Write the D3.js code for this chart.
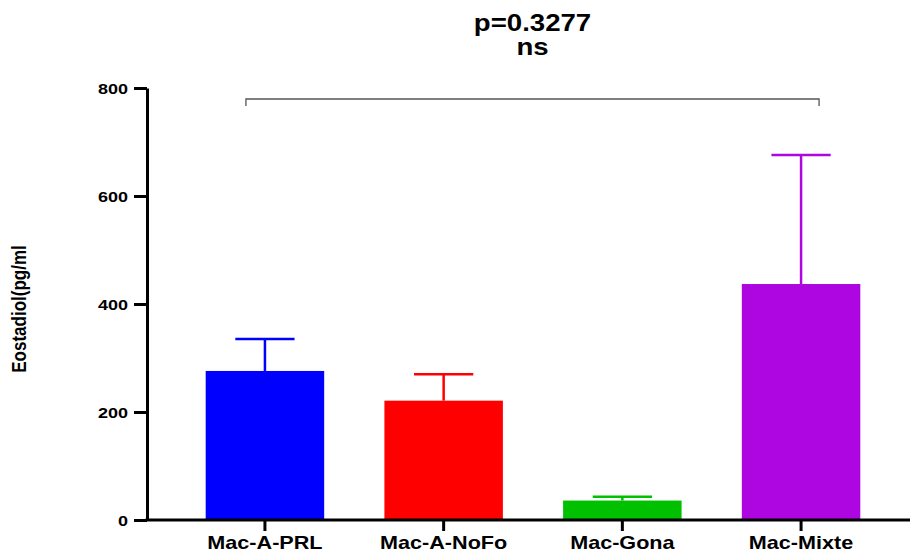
<!DOCTYPE html>
<html>
<head>
<meta charset="utf-8">
<script src="https://cdn.jsdelivr.net/npm/d3@7"></script>
<style>
  html, body { margin: 0; padding: 0; background: #fff; }
  svg { display: block; font-family: "Liberation Sans", Arial, sans-serif; font-weight: bold; }
</style>
</head>
<body>
<svg id="chart" width="910" height="553"></svg>
<script>
// Groups, means and SEM (pg/ml)
const groups = ["Mac-A-PRL", "Mac-A-NoFo", "Mac-Gona", "Mac-Mixte"];
const means = [276, 221, 36, 437];
const sems = [59, 49, 7, 239];
const colors = ["#0000FF", "#FF0000", "#00C000", "#AE06E0"];
const yTicks = [0, 200, 400, 600, 800];
const pLabel = "p=0.3277";
const sigLabel = "ns";
const yTitle = "Eostadiol(pg/ml";

const svg = d3.select("#chart");
const stretch = 1.2; // wide glyphs, as in the exported figure

const x = d3.scaleBand()
  .domain(groups)
  .range([146, 920])
  .paddingInner(0.337)
  .paddingOuter(0.334);

const y = d3.scaleLinear().domain([0, 800]).range([520, 88]);

const data = groups.map((g, i) => ({ g, m: means[i], e: sems[i], c: colors[i] }));

// Bars
svg.append("g").selectAll("rect").data(data).join("rect")
  .attr("x", d => x(d.g))
  .attr("width", x.bandwidth())
  .attr("y", d => y(d.m))
  .attr("height", d => y(0) - y(d.m))
  .attr("fill", d => d.c);

// Error bars (upper SEM)
const eb = svg.append("g").selectAll("g").data(data).join("g")
  .attr("stroke", d => d.c)
  .attr("stroke-width", 2.5)
  .attr("fill", "none");
eb.append("line")
  .attr("x1", d => x(d.g) + x.bandwidth() / 2)
  .attr("x2", d => x(d.g) + x.bandwidth() / 2)
  .attr("y1", d => y(d.m))
  .attr("y2", d => y(d.m + d.e));
eb.append("line")
  .attr("x1", d => x(d.g) + x.bandwidth() / 4)
  .attr("x2", d => x(d.g) + x.bandwidth() * 3 / 4)
  .attr("y1", d => y(d.m + d.e))
  .attr("y2", d => y(d.m + d.e));

// Y axis
const yAxis = svg.append("g")
  .attr("transform", "translate(147,0)")
  .call(d3.axisLeft(y).tickValues(yTicks).tickSize(13).tickSizeOuter(0).tickPadding(6));
yAxis.select(".domain").attr("stroke", "#000").attr("stroke-width", 3);
yAxis.selectAll(".tick line").attr("stroke", "#000").attr("stroke-width", 3);
yAxis.selectAll(".tick text")
  .attr("font-size", 15)
  .attr("font-weight", "bold")
  .attr("font-family", "Liberation Sans, Arial, sans-serif")
  .attr("fill", "#000")
  .attr("dy", "0.36em")
  .each(function () {
    const t = d3.select(this);
    const tx = +t.attr("x");
    t.attr("x", null).attr("transform", `translate(${tx},0) scale(${stretch},1)`);
  });

// X axis
const xAxis = svg.append("g")
  .attr("transform", "translate(0,520)")
  .call(d3.axisBottom(x).tickSize(11).tickSizeOuter(0).tickPadding(0));
xAxis.select(".domain").attr("stroke", "#000").attr("stroke-width", 3)
  .attr("d", "M145.5,0H910");
xAxis.selectAll(".tick line").attr("stroke", "#000").attr("stroke-width", 3);
xAxis.selectAll(".tick text").remove();
xAxis.selectAll(".tick").append("text")
  .attr("transform", `translate(0,28.5) scale(${stretch},1)`)
  .attr("text-anchor", "middle")
  .attr("font-size", 18)
  .attr("font-weight", "bold")
  .attr("font-family", "Liberation Sans, Arial, sans-serif")
  .attr("fill", "#000")
  .text(d => d);

// Y axis title
svg.append("text")
  .attr("transform", `translate(26,309) scale(${stretch},1) rotate(-90)`)
  .attr("text-anchor", "middle")
  .attr("font-size", 17)
  .attr("fill", "#000")
  .text(yTitle);

// Comparison bracket spanning all groups
const bx1 = x(groups[0]) + x.bandwidth() / 2 - 19;
const bx2 = x(groups[groups.length - 1]) + x.bandwidth() / 2 + 18;
svg.append("path")
  .attr("d", `M${bx1},106V99H${bx2}V106`)
  .attr("fill", "none")
  .attr("stroke", "#555")
  .attr("stroke-width", 1.3);

const cx = (bx1 + bx2) / 2;
svg.append("text")
  .attr("transform", `translate(${cx},31) scale(${stretch},1)`)
  .attr("text-anchor", "middle")
  .attr("font-size", 23)
  .attr("fill", "#000")
  .text(pLabel);
svg.append("text")
  .attr("transform", `translate(${cx},55) scale(${stretch},1)`)
  .attr("text-anchor", "middle")
  .attr("font-size", 23)
  .attr("fill", "#000")
  .text(sigLabel);
</script>
</body>
</html>
